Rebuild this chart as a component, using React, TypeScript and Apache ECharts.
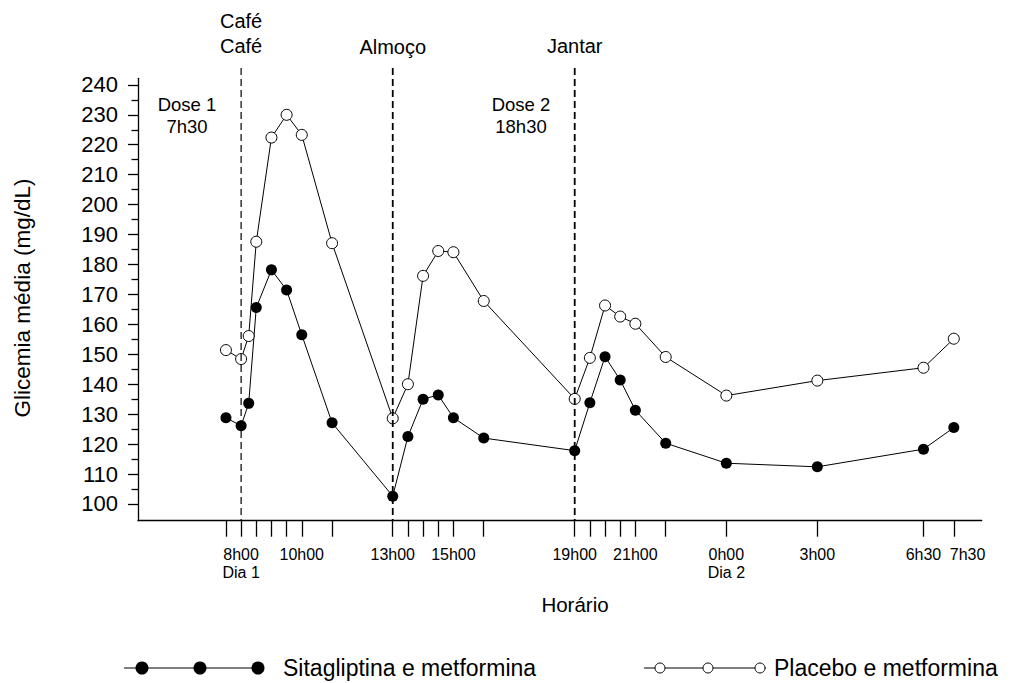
import React, { useEffect, useRef } from "react";
import * as echarts from "echarts";

// Hours since midnight of day 1 (24 = 0h00 day 2)
const hours = [7.5, 8, 8.25, 8.5, 9, 9.5, 10, 11, 13, 13.5, 14, 14.5, 15, 16, 19, 19.5, 20, 20.5, 21, 22, 24, 27, 30.5, 31.5];
const sitagliptina = [128.8, 126.1, 133.6, 165.6, 178.2, 171.5, 156.5, 127.1, 102.6, 122.5, 135.0, 136.4, 128.8, 122.0, 117.8, 133.8, 149.2, 141.4, 131.3, 120.3, 113.6, 112.4, 118.3, 125.5];
const placebo = [151.4, 148.4, 156.1, 187.6, 222.4, 230.0, 223.3, 187.1, 128.6, 140.0, 176.2, 184.5, 184.1, 167.8, 135.1, 148.8, 166.3, 162.6, 160.2, 149.1, 136.2, 141.2, 145.5, 155.2];

const xTickValues = [7.5, 8, 8.5, 9, 9.5, 10, 11, 13, 13.5, 14, 14.5, 15, 16, 19, 19.5, 20, 20.5, 21, 22, 24, 27, 30.5, 31.5];
const xLabelValues = [8, 10, 13, 15, 19, 21, 24, 27, 30.5];
const xLabelTexts = ["8h00\nDia 1", "10h00", "13h00", "15h00", "19h00", "21h00", "0h00\nDia 2", "3h00", "6h30"];
const xLastLabelValue = [31.5];
const xLastLabelText = ["7h30"];
const yMajorTicks = [100, 110, 120, 130, 140, 150, 160, 170, 180, 190, 200, 210, 220, 230, 240];
const yMinorTicks = [105, 115, 125, 135, 145, 155, 165, 175, 185, 195, 205, 215, 225, 235];

const mealHours = [8, 13, 19];
const mealLabels = ["Café\nCafé", "Almoço", "Jantar"];
const doseLabels = ["Dose 1\n7h30", "Dose 2\n18h30"];
const seriesNames = ["Sitagliptina e metformina", "Placebo e metformina"];

const X_MIN = 4.6;
const X_MAX = 32.42;
const Y_MIN = 94.4;
const Y_MAX = 242.2;
const FONT = "'Liberation Sans', Arial, sans-serif";

export default function App() {
  const ref = useRef<HTMLDivElement>(null);
  useEffect(() => {
    if (!ref.current) return;
    const chart = echarts.init(ref.current, null, { renderer: "svg" });
    const labelBase = {
      show: true,
      hideOverlap: false,
      showMinLabel: true,
      showMaxLabel: true,
      margin: 25,
      fontSize: 16,
      lineHeight: 18,
      color: "#000",
      fontFamily: FONT,
    };
    const option: any = {
      animation: false,
      backgroundColor: "#fff",
      textStyle: { fontFamily: FONT, color: "#000" },
      grid: { left: 138, right: 29.3, top: 78.3, bottom: 162.3, containLabel: false },
      xAxis: [
        {
          type: "value",
          min: X_MIN,
          max: X_MAX,
          position: "bottom",
          splitLine: { show: false },
          axisLine: { show: true, onZero: false, lineStyle: { color: "#000", width: 1.3 } },
          axisTick: { show: true, customValues: xTickValues, length: 16, lineStyle: { color: "#000", width: 1.3 } },
          axisLabel: {
            ...labelBase,
            customValues: xLabelValues,
            formatter: (v: number) => {
              const i = xLabelValues.findIndex((x) => Math.abs(x - v) < 1e-6);
              return i >= 0 ? xLabelTexts[i] : "";
            },
          },
        },
        {
          type: "value",
          min: X_MIN,
          max: X_MAX,
          position: "bottom",
          offset: 0,
          splitLine: { show: false },
          axisLine: { show: false, onZero: false },
          axisTick: { show: false },
          axisLabel: {
            ...labelBase,
            customValues: xLastLabelValue,
            align: "left",
            padding: [0, 0, 0, -4],
            formatter: (v: number) => {
              const i = xLastLabelValue.findIndex((x) => Math.abs(x - v) < 1e-6);
              return i >= 0 ? xLastLabelText[i] : "";
            },
          },
        },
      ],
      yAxis: [
        {
          type: "value",
          min: Y_MIN,
          max: Y_MAX,
          position: "left",
          splitLine: { show: false },
          axisLine: { show: true, onZero: false, lineStyle: { color: "#000", width: 1.3 } },
          axisTick: { show: true, customValues: yMajorTicks, length: 10, lineStyle: { color: "#000", width: 1.3 } },
          axisLabel: { show: true, customValues: yMajorTicks, margin: 20, fontSize: 22, color: "#000", fontFamily: FONT },
        },
        {
          type: "value",
          min: Y_MIN,
          max: Y_MAX,
          position: "left",
          splitLine: { show: false },
          axisLine: { show: false },
          axisTick: { show: true, customValues: yMinorTicks, length: 6.5, lineStyle: { color: "#000", width: 1.3 } },
          axisLabel: { show: false },
        },
      ],
      series: [
        {
          name: seriesNames[0],
          type: "line",
          xAxisIndex: 0,
          yAxisIndex: 0,
          data: hours.map((h, i) => [h, sitagliptina[i]]),
          symbol: "circle",
          symbolSize: 11,
          lineStyle: { color: "#000", width: 1 },
          itemStyle: { color: "#000" },
          z: 3,
        },
        {
          name: seriesNames[1],
          type: "line",
          xAxisIndex: 0,
          yAxisIndex: 0,
          data: hours.map((h, i) => [h, placebo[i]]),
          symbol: "circle",
          symbolSize: 11,
          lineStyle: { color: "#000", width: 1 },
          itemStyle: { color: "#fff", borderColor: "#000", borderWidth: 1 },
          z: 3,
        },
      ],
    };
    chart.setOption(option);

    const px = (h: number, v: number) => chart.convertToPixel({ xAxisIndex: 0, yAxisIndex: 0 }, [h, v]) as number[];
    const g: any[] = [];
    const textStyle = (text: string, size: number, align: string, vAlign: string, lh?: number) => ({
      text,
      fontSize: size,
      fontFamily: FONT,
      fill: "#000",
      align,
      verticalAlign: vAlign,
      textAlign: align,
      textVerticalAlign: vAlign,
      lineHeight: lh || size * 1.15,
    });
    const mealY = [33, 47, 46];
    mealHours.forEach((h, i) => {
      const top = px(h, 245.6);
      const bot = px(h, Y_MIN);
      g.push({
        type: "line",
        z: 50,
        silent: true,
        shape: { x1: top[0], y1: top[1], x2: bot[0], y2: bot[1] },
        style: { stroke: "#000", lineWidth: i === 0 ? 1.2 : 1.8, lineDash: [7, 4] },
      });
      g.push({ type: "text", z: 50, x: top[0], y: mealY[i], style: textStyle(mealLabels[i], 20, "center", "middle", 25) });
    });
    g.push({ type: "text", z: 50, x: 187, y: 115, style: textStyle(doseLabels[0], 18.5, "center", "middle", 22) });
    g.push({ type: "text", z: 50, x: 521, y: 115, style: textStyle(doseLabels[1], 18.5, "center", "middle", 22) });
    // Axis titles
    g.push({ type: "text", z: 50, x: 575, y: 604, style: textStyle("Horário", 20.5, "center", "middle") });
    g.push({
      type: "text",
      z: 50,
      x: 22,
      y: 298,
      rotation: Math.PI / 2,
      style: textStyle("Glicemia média (mg/dL)", 22.5, "center", "middle"),
    });
    // Legend
    const ly = 668;
    g.push({ type: "line", z: 50, shape: { x1: 124, y1: ly, x2: 262, y2: ly }, style: { stroke: "#000", lineWidth: 1.2 } });
    [142, 200, 258].forEach((x) => g.push({ type: "circle", z: 51, shape: { cx: x, cy: ly, r: 6.5 }, style: { fill: "#000" } }));
    g.push({ type: "text", z: 50, x: 283, y: ly, style: textStyle(seriesNames[0], 23, "left", "middle") });
    g.push({ type: "line", z: 50, shape: { x1: 644, y1: ly, x2: 766, y2: ly }, style: { stroke: "#000", lineWidth: 1 } });
    [660, 708, 760].forEach((x) =>
      g.push({ type: "circle", z: 51, shape: { cx: x, cy: ly, r: 5 }, style: { fill: "#fff", stroke: "#000", lineWidth: 1 } })
    );
    g.push({ type: "text", z: 50, x: 774, y: ly, style: textStyle(seriesNames[1], 23, "left", "middle") });

    chart.setOption({ graphic: { elements: g } });
    return () => chart.dispose();
  }, []);
  return <div ref={ref} style={{ position: "absolute", left: 0, top: 0, width: 1011, height: 683 }} />;
}
